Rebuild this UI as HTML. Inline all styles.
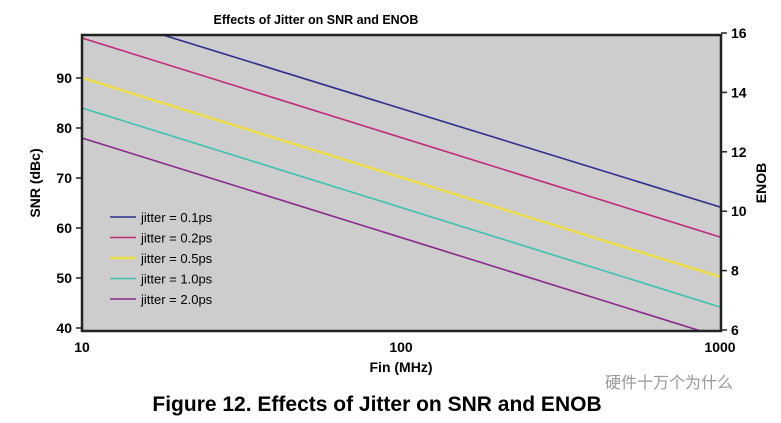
<!DOCTYPE html>
<html><head><meta charset="utf-8"><style>
body{margin:0;background:#fff;font-family:"Liberation Sans",Arial,sans-serif;}
svg text{font-family:"Liberation Sans",Arial,sans-serif;font-weight:bold;}
</style></head><body>
<svg id="chart" width="781" height="418" viewBox="0 0 781 418" xmlns="http://www.w3.org/2000/svg">
<text x="316" y="24" font-size="12.5" text-anchor="middle">Effects of Jitter on SNR and ENOB</text>
<defs><clipPath id="pc"><rect x="82" y="35" width="639" height="296"/></clipPath></defs>
<rect x="82" y="35" width="639" height="296" fill="#cdcdcd"/>
<g id="lines" clip-path="url(#pc)"></g>
<g id="axes"></g>
<g id="legend"></g>
<text x="401" y="372" font-size="14" text-anchor="middle">Fin (MHz)</text>
<text transform="translate(40,183) rotate(-90)" font-size="14" text-anchor="middle">SNR (dBc)</text>
<text transform="translate(766,183) rotate(-90)" font-size="14" text-anchor="middle">ENOB</text>
<text x="377" y="411" font-size="21" text-anchor="middle">Figure 12. Effects of Jitter on SNR and ENOB</text>
<text x="605" y="388" font-size="16" fill="#999" style="font-family:'Liberation Sans','Noto Sans CJK SC',sans-serif;font-weight:normal">硬件十万个为什么</text>
</svg>
<script>
const seriesNames=["jitter = 0.1ps","jitter = 0.2ps","jitter = 0.5ps","jitter = 1.0ps","jitter = 2.0ps"];
const snrAt10=[103.6,98,90,84,78];
const snrAt1000=[64.2,58.2,50.2,44.2,38.2];
const colors=["#2e2e8c","#c02a7c","#eee04a","#3ec0b2","#8a2a8a"];
const leftTicks=[40,50,60,70,80,90];
const rightTicks=[6,8,10,12,14,16];
const xTicks=[10,100,1000];
const NS="http://www.w3.org/2000/svg";
const L=82,R=721,T=35,B=331;
function xs(f){return 82+(Math.log10(f)-1)*319;}
function ys(v){return 328-(v-40)*5;}
function yr(v){return 330-(v-6)*29.7;}
function mk(t,a,p){const e=document.createElementNS(NS,t);for(const k in a)e.setAttribute(k,a[k]);p.appendChild(e);return e;}
const lg=document.getElementById('lines');
seriesNames.forEach((n,i)=>{
 const e=mk('line',{x1:xs(10),y1:ys(snrAt10[i]),x2:xs(1000),y2:ys(snrAt1000[i]),stroke:colors[i],'stroke-width':i==2?2.5:1.6},lg);
 
 
});
const ax=document.getElementById('axes');
const fr=mk('rect',{x:L,y:T,width:R-L,height:B-T,fill:'none',stroke:'#222','stroke-width':2.5},ax);


leftTicks.forEach(v=>{
 mk('line',{x1:L-6,x2:L,y1:ys(v),y2:ys(v),stroke:'#222','stroke-width':1.5},ax);
 const t=mk('text',{x:L-10,y:ys(v)+5,'font-size':14,'text-anchor':'end'},ax);t.textContent=v;
 
 
});
rightTicks.forEach(v=>{
 mk('line',{x1:R,x2:R+6,y1:yr(v),y2:yr(v),stroke:'#222','stroke-width':1.5},ax);
 const t=mk('text',{x:R+10,y:yr(v)+5,'font-size':14},ax);t.textContent=v;
 
 
});
xTicks.forEach(v=>{
 const t=mk('text',{x:xs(v),y:352,'font-size':14,'text-anchor':'middle'},ax);t.textContent=v;
 
 
});
const lgd=document.getElementById('legend');
seriesNames.forEach((n,i)=>{
 const y=217+i*20.5;
 const l=mk('line',{x1:110,x2:136,y1:y,y2:y,stroke:colors[i],'stroke-width':i==2?2.5:1.6},lgd);
 
 
 const t=mk('text',{x:141,y:y+5,'font-size':13,style:'font-weight:normal'},lgd);t.textContent=n;
 
 
});
</script>
</body></html>
